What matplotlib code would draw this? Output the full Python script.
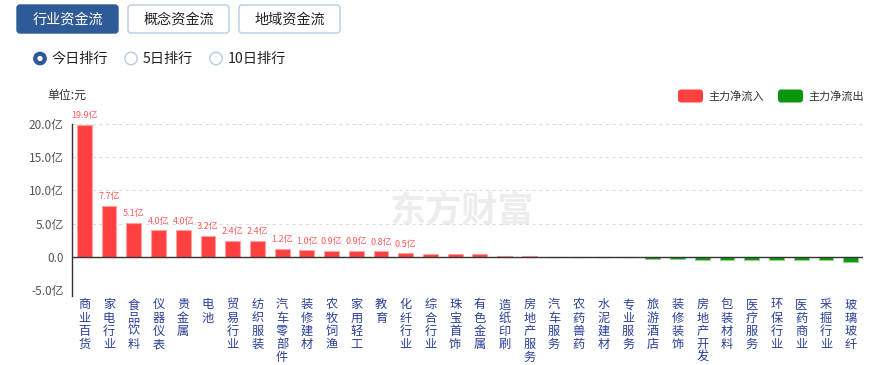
import numpy as np
import matplotlib
matplotlib.use("Agg")
import matplotlib.pyplot as plt
from matplotlib.patches import FancyBboxPatch, Circle

plt.rcParams['font.family'] = ['Noto Sans CJK SC', 'DejaVu Sans']

# ----------------------------
# data (亿元)
# ----------------------------
industries = ["商业百货", "家电行业", "食品饮料", "仪器仪表", "贵金属", "电池",
              "贸易行业", "纺织服装", "汽车零部件", "装修建材", "农牧饲渔", "家用轻工",
              "教育", "化纤行业", "综合行业", "珠宝首饰", "有色金属", "造纸印刷",
              "房地产服务", "汽车服务", "农药兽药", "水泥建材", "专业服务", "旅游酒店",
              "装修装饰", "房地产开发", "包装材料", "医疗服务", "环保行业", "医药商业",
              "采掘行业", "玻璃玻纤"]
net_flow = [19.9, 7.7, 5.1, 4.0, 4.0, 3.2, 2.4, 2.4, 1.2, 1.0, 0.9, 0.9,
            0.8, 0.5, 0.45, 0.35, 0.35, 0.15, 0.07, 0.03, 0.01, -0.02, -0.1, -0.4,
            -0.4, -0.45, -0.5, -0.5, -0.5, -0.55, -0.55, -0.75]
yticks = [-5, 0, 5, 10, 15, 20]
ytick_labels = ["-5.0亿", "0.0", "5.0亿", "10.0亿", "15.0亿", "20.0亿"]

RED = "#ff4040"
GREEN = "#0a960a"
W, H = 874, 365

fig = plt.figure(figsize=(W / 100, H / 100), dpi=100)

# ----------------------------
# bar chart
# ----------------------------
ax = fig.add_axes([72 / W, (H - 290) / H, (863 - 72) / W, (290 - 124) / H])
ax.patch.set_alpha(0)
x = np.arange(len(industries))
vals = np.array(net_flow)
colors = [RED if v >= 0 else GREEN for v in vals]
edges = ["#ffa0a0" if v >= 0 else "#8fd08f" for v in vals]
ax.bar(x, vals, width=0.6, color=colors, edgecolor=edges, linewidth=0.8, zorder=3)

for xi, v in zip(x, vals):
    if v >= 0.5:
        ax.text(xi, v + 0.7, f"{v:.1f}亿", ha="center", va="bottom",
                fontsize=6.5, color="#ff5a5a", zorder=4)

ax.set_xlim(-0.5, len(industries) - 0.5)
ax.set_ylim(-5, 20)
ax.set_yticks(yticks)
ax.set_yticklabels(ytick_labels, fontsize=8.5, color="#555555")
ax.tick_params(axis="y", length=0, pad=6)
ax.set_xticks(x)
ax.set_xticklabels(["\n".join(n) for n in industries], fontsize=8.8,
                   color="#2a3f9a", va="top", linespacing=1.02)
ax.tick_params(axis="x", length=0, pad=6)

for yv in yticks:
    if yv != 0:
        ax.axhline(yv, color="#dddddd", linestyle=(0, (3, 3)), linewidth=0.8, zorder=1)
ax.axhline(0, color="#333333", linewidth=1.0, zorder=4)

for s in ["top", "right", "bottom"]:
    ax.spines[s].set_visible(False)
ax.spines["left"].set_color("#333333")
ax.spines["left"].set_linewidth(1.0)
ax.spines["left"].set_bounds(-5.9, 20)

# ----------------------------
# decorations (pixel overlay)
# ----------------------------
ov = fig.add_axes([0, 0, 1, 1], zorder=-1)
ov.set_xlim(0, W)
ov.set_ylim(H, 0)
ov.axis("off")

ov2 = fig.add_axes([0, 0, 1, 1], zorder=5)
ov2.set_xlim(0, W)
ov2.set_ylim(H, 0)
ov2.axis("off")
ov2.patch.set_alpha(0)

# tab buttons
tabs = ["行业资金流", "概念资金流", "地域资金流"]
for i, t in enumerate(tabs):
    x0 = 17 + i * 111
    active = i == 0
    ov2.add_patch(FancyBboxPatch((x0, 5), 101, 28, boxstyle="round,pad=0,rounding_size=3",
                                 facecolor="#2f5a98" if active else "white",
                                 edgecolor="#2f5a98" if active else "#b4cce6", linewidth=1))
    ov2.text(x0 + 50.5, 19.5, t, ha="center", va="center", fontsize=10.2,
             color="white" if active else "#222222")

# radio buttons
radios = [("今日排行", 40), ("5日排行", 131), ("10日排行", 216)]
for i, (t, cx) in enumerate(radios):
    if i == 0:
        ov2.add_patch(Circle((cx, 58.5), 6.2, facecolor="#2f5a98", edgecolor="#2f5a98"))
        ov2.add_patch(Circle((cx, 58.5), 2.6, facecolor="white", edgecolor="none"))
    else:
        ov2.add_patch(Circle((cx, 58.5), 6.2, facecolor="white", edgecolor="#b4cce6", linewidth=1))
    ov2.text(cx + 12, 58.5, t, ha="left", va="center", fontsize=10.2, color="#222222")

# unit label
ov2.text(47, 95, "单位:元", ha="left", va="center", fontsize=8.6, color="#333333")

# legend
for lx, col, t in [(678, RED, "主力净流入"), (778, GREEN, "主力净流出")]:
    ov2.add_patch(FancyBboxPatch((lx, 89.5), 25, 13, boxstyle="round,pad=0,rounding_size=3",
                                 facecolor=col, edgecolor="none"))
    ov2.text(lx + 30, 96, t, ha="left", va="center", fontsize=8, color="#333333")

# watermark
ov.text(462, 211, "东方财富", ha="center", va="center", fontsize=26,
        fontweight="bold", color="#ededed")

fig.savefig("out.png", dpi=100)
